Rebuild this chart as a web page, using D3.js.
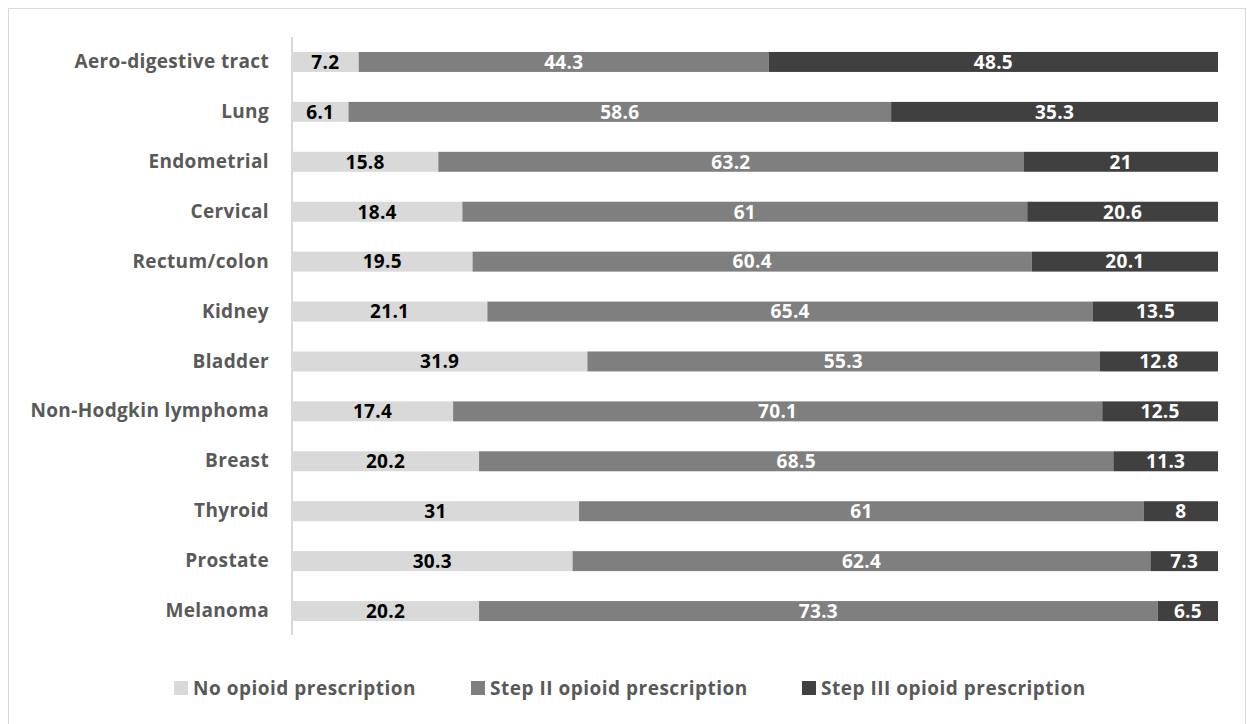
<!DOCTYPE html>
<html><head><meta charset="utf-8">
<script src="https://cdn.jsdelivr.net/npm/d3@7"></script>
<style>body{margin:0;background:#fff}svg{display:block}</style>
</head><body>
<svg id="c" width="1247" height="724"></svg>
<script>
const categories = ["Aero-digestive tract","Lung","Endometrial","Cervical","Rectum/colon","Kidney","Bladder","Non-Hodgkin lymphoma","Breast","Thyroid","Prostate","Melanoma"];
const noOpioid = [7.2,6.1,15.8,18.4,19.5,21.1,31.9,17.4,20.2,31,30.3,20.2];
const stepII = [44.3,58.6,63.2,61,60.4,65.4,55.3,70.1,68.5,61,62.4,73.3];
const stepIII = [48.5,35.3,21,20.6,20.1,13.5,12.8,12.5,11.3,8,7.3,6.5];
const seriesNames = ["No opioid prescription","Step II opioid prescription","Step III opioid prescription"];
const colors = ["#d9d9d9","#7f7f7f","#404040"];
const labelColors = ["#000","#fff","#fff"];

const svg = d3.select("#c");
const font = "'Open Sans', sans-serif";
svg.append("rect").attr("x",8.5).attr("y",8.5).attr("width",1237).attr("height",730)
  .attr("fill","#fff").attr("stroke","#d9d9d9");

const rows = categories.map((c,i)=>({cat:c, v:[noOpioid[i],stepII[i],stepIII[i]]}));
const x = d3.scaleLinear().domain([0,100]).range([292,1218]);
const y = d3.scaleBand().domain(categories).range([37,636]).paddingInner(0.6).paddingOuter(0.3);

const g = svg.append("g");
rows.forEach(r=>{
  let acc=0;
  r.v.forEach((val,k)=>{
    const x0=x(acc), x1=x(acc+val);
    g.append("rect").attr("x",x0).attr("y",y(r.cat)).attr("width",x1-x0).attr("height",y.bandwidth()).attr("fill",colors[k]);
    g.append("text").attr("x",(x0+x1)/2).attr("y",y(r.cat)+y.bandwidth()/2).attr("dy","0.36em")
      .attr("text-anchor","middle").attr("font-family",font).attr("font-weight","bold").attr("font-size",19)
      .attr("letter-spacing","0.3px")
      .attr("fill",labelColors[k]).text(val);
    acc+=val;
  });
});

const yAxis = svg.append("g").attr("transform","translate(292,0)").call(d3.axisLeft(y).tickSize(0).tickPadding(23));
yAxis.select(".domain").attr("stroke","#d9d9d9").attr("stroke-width",2).attr("d","M0,37V635");
yAxis.selectAll("text").attr("font-family",font).attr("font-weight","bold").attr("font-size",19)
  .attr("letter-spacing","0.35px").attr("fill","#595959");

const legX = [174,471,802];
const lg = svg.append("g");
seriesNames.forEach((n,k)=>{
  lg.append("rect").attr("x",legX[k]).attr("y",681).attr("width",14).attr("height",14).attr("fill",colors[k]);
  lg.append("text").attr("x",legX[k]+19).attr("y",688).attr("dy","0.36em").attr("font-family",font)
    .attr("font-weight","bold").attr("font-size",19).attr("letter-spacing","0.5px").attr("fill","#595959").text(n);
});
</script>
</body></html>
